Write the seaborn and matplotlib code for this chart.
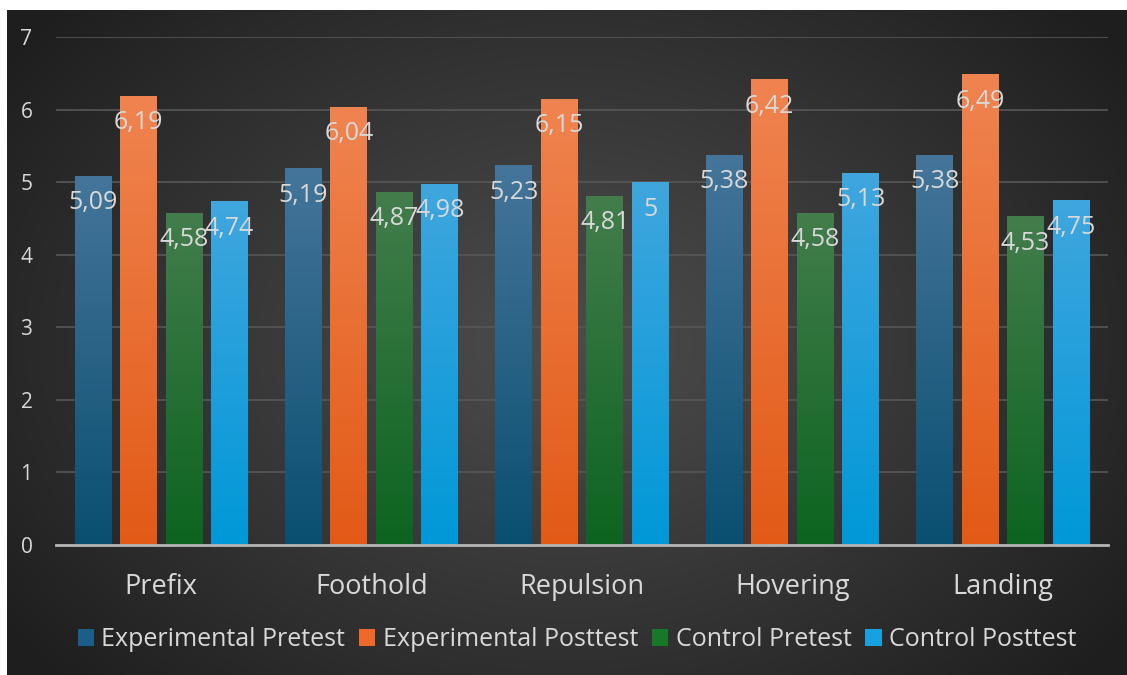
import numpy as np
import pandas as pd
import matplotlib
matplotlib.use("Agg")
import matplotlib.pyplot as plt
from matplotlib.colors import to_rgb
from matplotlib.patches import Patch
import seaborn as sns

categories = ["Prefix", "Foothold", "Repulsion", "Hovering", "Landing"]
series = ["Experimental Pretest", "Experimental Posttest", "Control Pretest", "Control Posttest"]
exp_pre = [5.09, 5.19, 5.23, 5.38, 5.38]
exp_post = [6.19, 6.04, 6.15, 6.42, 6.49]
ctl_pre = [4.58, 4.87, 4.81, 4.58, 4.53]
ctl_post = [4.74, 4.98, 5.00, 5.13, 4.75]
y_ticks = [0, 1, 2, 3, 4, 5, 6, 7]

values = [exp_pre, exp_post, ctl_pre, ctl_post]
rows = []
for s, vals in zip(series, values):
    for c, v in zip(categories, vals):
        rows.append({"category": c, "series": s, "value": v})
df = pd.DataFrame(rows)

legend_colors = ["#1b5f89", "#f0692a", "#17782a", "#17a1e0"]
grad_top = ["#45759a", "#f08450", "#437d4c", "#40a6de"]
grad_bot = ["#0a4f70", "#e25a16", "#0c6420", "#0098d8"]

sns.set_theme(style="white")
plt.rcParams["font.family"] = ["Open Sans", "DejaVu Sans"]

fig = plt.figure(figsize=(11.27, 6.75), dpi=100, facecolor="white")

# background radial gradient
bg = fig.add_axes([7 / 1127, 0, 1120 / 1127, 665 / 675])
H, W = 665, 1120
yy, xx = np.mgrid[0:H, 0:W]
r = np.sqrt(((xx - W * 0.5) / (W * 0.62)) ** 2 + ((yy - H * 0.5) / (H * 0.75)) ** 2)
r = np.clip(r, 0, 1)
cc, ce = 76 / 255, 30 / 255
g = cc + (ce - cc) * r ** 1.1
img = np.dstack([g, g, g])
bg.imshow(img, extent=[0, 1, 0, 1], aspect="auto", origin="upper")
bg.set_axis_off()
bg.set_zorder(0)

ax = fig.add_axes([56 / 1127, (675 - 545) / 675, (1108 - 56) / 1127, (545 - 37) / 675])
ax.set_zorder(1)
ax.patch.set_alpha(0)

sns.barplot(data=df, x="category", y="value", hue="series", hue_order=series,
            order=categories, palette=legend_colors, width=0.865, gap=0.19,
            errorbar=None, saturation=1, legend=False, ax=ax)

for i, cont in enumerate(ax.containers):
    top = np.array(to_rgb(grad_top[i]))
    bot = np.array(to_rgb(grad_bot[i]))
    for patch in cont.patches:
        x0 = patch.get_x()
        w = patch.get_width()
        h = patch.get_height()
        t = np.linspace(0, 1, 256)[:, None]
        col = top[None, :] * (1 - t) + bot[None, :] * t
        grad = col[:, None, :]
        im = ax.imshow(grad, extent=[x0, x0 + w, 0, h], aspect="auto",
                       origin="upper", zorder=2)
        im.set_clip_path(patch)
        patch.set_facecolor("none")
        patch.set_edgecolor("none")
        lab = f"{h:g}".replace(".", ",")
        ax.annotate(lab, (x0 + w / 2, h), xytext=(0, -27), textcoords="offset pixels",
                    ha="center", va="center", color="#d9d9d9", fontsize=18, zorder=4)

ax.set_xlim(-0.5, 4.5)
ax.set_ylim(0, 7)
ax.set_yticks(y_ticks)
ax.set_yticklabels([str(v) for v in y_ticks], color="#d9d9d9", fontsize=15)
ax.set_xticks(range(len(categories)))
ax.set_xticklabels(categories, color="#d9d9d9", fontsize=19.5)
ax.tick_params(axis="y", length=0, pad=17)
ax.tick_params(axis="x", length=0, pad=20)
ax.set_xlabel("")
ax.set_ylabel("")
ax.yaxis.grid(True, color="#575757", lw=1.2)
ax.set_axisbelow(True)
for s in ["top", "right", "left"]:
    ax.spines[s].set_visible(False)
ax.spines["bottom"].set_color("#b5b5b5")
ax.spines["bottom"].set_linewidth(2)
ax.spines["bottom"].set_zorder(5)

handles = [Patch(facecolor=c, edgecolor="none") for c in legend_colors]
fig.legend(handles, series, loc="center", bbox_to_anchor=(0.512, 1 - 640 / 675),
           ncol=4, frameon=False, fontsize=18, handlelength=0.65, handleheight=0.65,
           handletextpad=0.3, columnspacing=0.55, labelcolor="#d9d9d9")

fig.savefig("out.png", dpi=100, facecolor="white")
